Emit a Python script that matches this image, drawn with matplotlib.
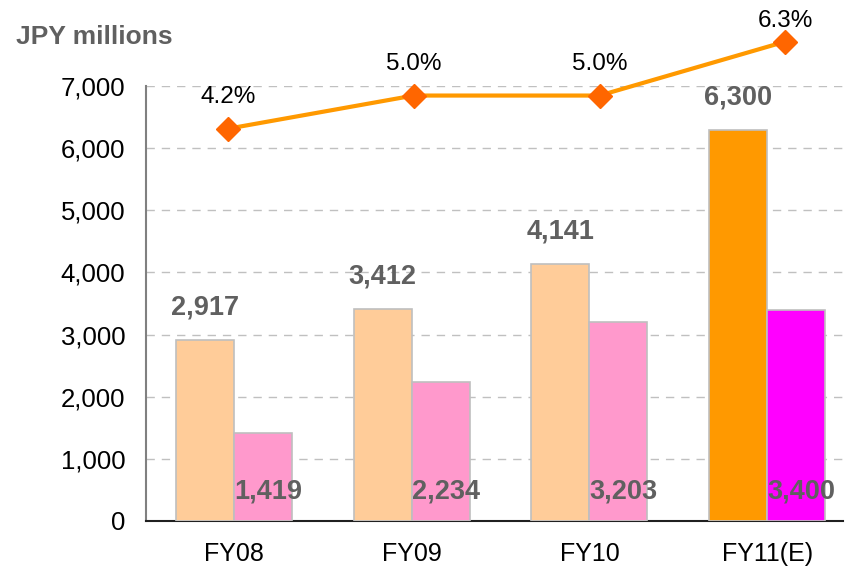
import matplotlib
matplotlib.use("Agg")
import matplotlib.pyplot as plt
import numpy as np

plt.rcParams['font.family'] = ['Liberation Sans', 'DejaVu Sans']

categories = ["FY08", "FY09", "FY10", "FY11(E)"]
sales = [2917, 3412, 4141, 6300]
profit = [1419, 2234, 3203, 3400]
ratio = [4.2, 5.0, 5.0, 6.3]
ratio_labels = ["4.2%", "5.0%", "5.0%", "6.3%"]
yticks = [0, 1000, 2000, 3000, 4000, 5000, 6000, 7000]

sales_colors = ["#FFCC99", "#FFCC99", "#FFCC99", "#FF9900"]
profit_colors = ["#FF99CC", "#FF99CC", "#FF99CC", "#FF00FF"]
ratio_offsets = [23, 23, 23, 15]

fig = plt.figure(figsize=(8.46, 5.74), dpi=100)
rect = [146/846, 53/574, 697/846, 435/574]
ax = fig.add_axes(rect)

x = np.arange(len(categories))
w = 0.326
ax.bar(x - w/2, sales, w, color=sales_colors, edgecolor="#BFBFBF", linewidth=1.2, zorder=3)
ax.bar(x + w/2, profit, w, color=profit_colors, edgecolor="#BFBFBF", linewidth=1.2, zorder=3)

ax.set_xlim(-0.495, 3.427)
ax.set_ylim(0, 7000)
ax.set_yticks(yticks)
ax.set_yticklabels([f"{v:,}" for v in yticks], fontsize=18.5)
ax.set_xticks(x)
ax.set_xticklabels(categories, fontsize=18)
ax.tick_params(axis='y', length=0, pad=15)
ax.tick_params(axis='x', length=0, pad=15)
ax.yaxis.grid(True, color="#C0C0C0", linestyle=(0, (6, 5)), linewidth=1, zorder=0)
ax.set_axisbelow(True)
for s in ["top", "right"]:
    ax.spines[s].set_visible(False)
ax.spines["left"].set_color("#808080")
ax.spines["left"].set_linewidth(1.5)
ax.spines["bottom"].set_color("#202020")
ax.spines["bottom"].set_linewidth(1.5)

for i, v in enumerate(sales):
    ax.annotate(f"{v:,}", (x[i] - w/2, v), xytext=(0, 14), textcoords="offset points",
                ha="center", va="bottom", fontsize=19.5, fontweight="bold", color="#606060",
                zorder=5)
for i, v in enumerate(profit):
    ax.text(x[i] + w/2 + 0.03, 470, f"{v:,}", ha="center", va="center", fontsize=19.5,
            fontweight="bold", color="#606060", zorder=5)

# line on separate overlay axes
ax2 = fig.add_axes(rect, frameon=False)
ax2.set_xlim(-0.44, 3.31)
ax2.set_ylim(-5.25, 5.23)
ax2.set_xticks([])
ax2.set_yticks([])
ax2.patch.set_alpha(0)
ax2.plot(x, ratio, color="#FF9900", linewidth=3, marker="D", markersize=12,
         markerfacecolor="#FF6600", markeredgecolor="#FF6600", clip_on=False, zorder=6)
for i, v in enumerate(ratio):
    ax2.annotate(ratio_labels[i], (x[i], v), xytext=(0, ratio_offsets[i]), textcoords="offset points",
                 ha="center", va="center", fontsize=17.5, color="#000000",
                 annotation_clip=False)

fig.text(16/846, 1 - 37/574, "JPY millions", ha="left", va="center", fontsize=19,
         fontweight="bold", color="#606060")

fig.savefig("out.png", dpi=100)
